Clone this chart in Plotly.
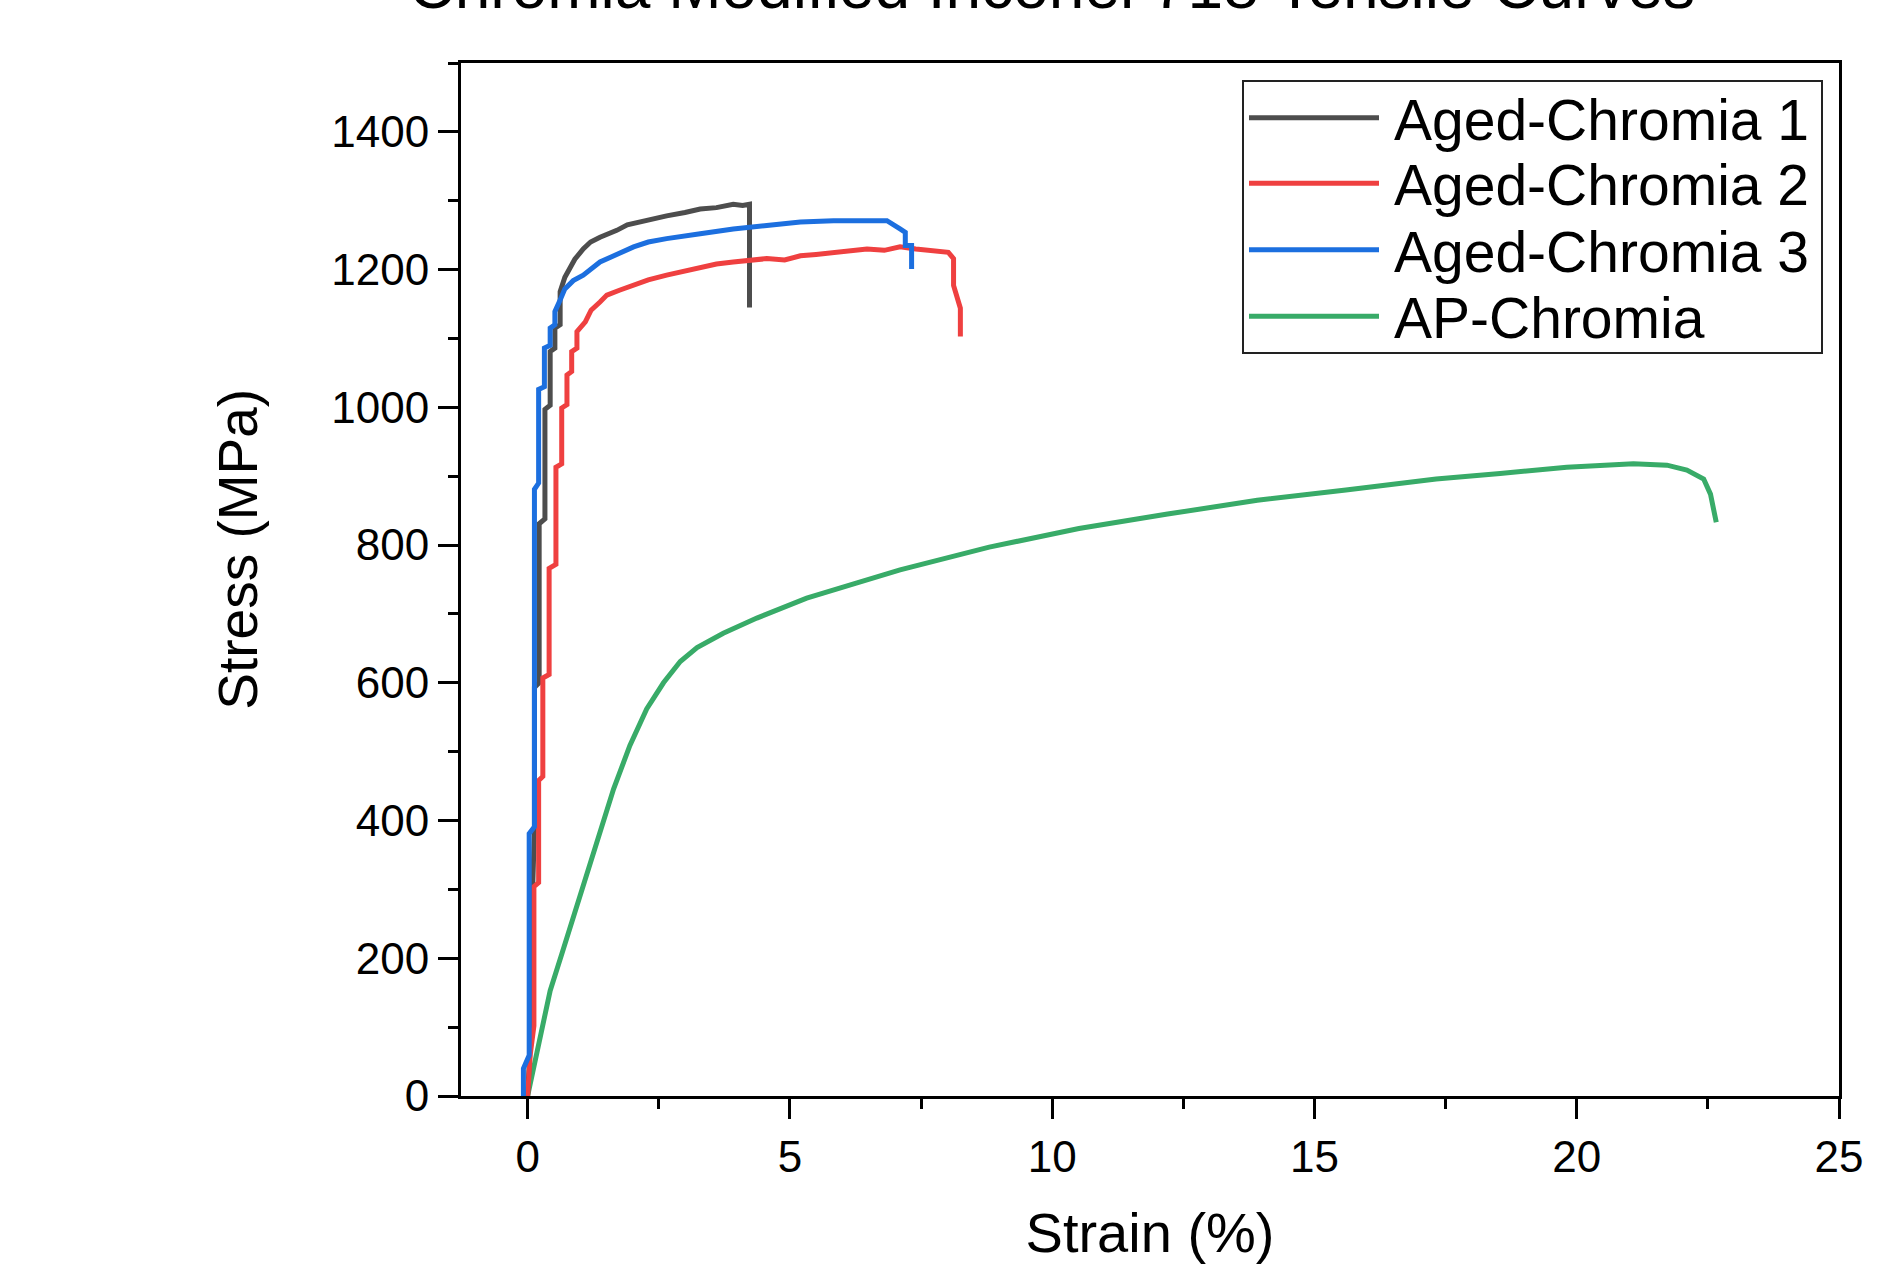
import plotly.graph_objects as go

# datos
names = ['Aged-Chromia 1', 'Aged-Chromia 2', 'Aged-Chromia 3', 'AP-Chromia']
colors = ['#4d4d4d', '#ef4040', '#1c6fdf', '#38ab68']

strain_aged1 = [0, 0.04, 0.08, 0.10, 0.13, 0.13, 0.22, 0.22, 0.33, 0.33, 0.43, 0.43, 0.52, 0.52,
                0.62, 0.62, 0.71, 0.81, 0.90, 1.06, 1.20, 1.38, 1.55, 1.70, 1.90, 2.21, 2.45, 2.65,
                3.00, 3.29, 3.60, 3.92, 4.10, 4.23, 4.23]
stress_aged1 = [0, 60, 300, 310, 390, 593, 600, 831, 838, 997, 1003, 1081, 1086, 1115,
                1120, 1168, 1189, 1204, 1215, 1230, 1240, 1247, 1252, 1257, 1265, 1271, 1275, 1278,
                1283, 1288, 1290, 1295, 1293, 1295, 1145]

strain_aged2 = [0, 0.05, 0.12, 0.12, 0.21, 0.21, 0.29, 0.29, 0.41, 0.41, 0.54, 0.54, 0.65, 0.65,
                0.75, 0.75, 0.84, 0.84, 0.94, 0.94, 1.10, 1.21, 1.38, 1.51, 1.75, 2.02, 2.30, 2.65,
                3.00, 3.29, 3.60, 3.92, 4.20, 4.56, 4.90, 5.20, 5.50, 5.83, 6.15, 6.47, 6.80, 7.10,
                7.40, 7.74, 8.02, 8.12, 8.12, 8.25, 8.25]
stress_aged2 = [0, 60, 102, 304, 310, 458, 464, 607, 612, 766, 772, 913, 918, 999,
                1004, 1047, 1052, 1081, 1086, 1110, 1124, 1141, 1153, 1163, 1170, 1177, 1185, 1192,
                1198, 1204, 1208, 1211, 1213, 1216, 1214, 1220, 1222, 1225, 1227, 1230, 1228, 1233,
                1230, 1228, 1225, 1216, 1177, 1144, 1103]

strain_aged3 = [-0.08, -0.08, 0.03, 0.03, 0.13, 0.13, 0.21, 0.21, 0.32, 0.32, 0.43, 0.43, 0.52, 0.52,
                0.62, 0.71, 0.87, 1.06, 1.38, 1.70, 2.02, 2.30, 2.65, 3.29, 3.92, 4.56, 5.20, 5.83,
                6.47, 6.85, 7.10, 7.20, 7.20, 7.32, 7.32]
stress_aged3 = [0, 40, 59, 381, 391, 881, 890, 1026, 1030, 1086, 1090, 1115, 1120, 1139,
                1156, 1172, 1184, 1192, 1211, 1223, 1233, 1240, 1245, 1252, 1259, 1264, 1269, 1271,
                1271, 1271, 1259, 1254, 1235, 1235, 1201]

strain_ap = [0, 0.27, 0.43, 0.65, 1.00, 1.32, 1.64, 1.95, 2.27, 2.59, 2.91, 3.23, 3.73, 4.37,
             5.32, 6.28, 7.10, 8.80, 10.51, 12.20, 13.91, 15.60, 17.32, 18.54, 19.81, 21.08,
             21.72, 22.10, 22.42, 22.55, 22.66]
stress_ap = [0, 95, 153, 206, 292, 369, 446, 509, 562, 600, 631, 651, 672, 694,
             723, 745, 764, 797, 824, 845, 865, 880, 896, 904, 913, 918,
             916, 909, 896, 874, 833]

series = [(strain_aged1, stress_aged1), (strain_aged2, stress_aged2),
          (strain_aged3, stress_aged3), (strain_ap, stress_ap)]

W, H = 1902, 1266
L, R, T, B = 461, 63, 63, 163
font = 'Arial, Liberation Sans, sans-serif'

fig = go.Figure()
# dibujar las curvas (la verde primero para que quede debajo)
for i in [3, 0, 1, 2]:
    x, y = series[i]
    fig.add_trace(go.Scatter(x=x, y=y, mode='lines', name=names[i],
                             line=dict(color=colors[i], width=5), showlegend=False))

# pasar pixeles a coordenadas paper
def px(xp):
    return (xp - L) / (W - L - R)

def py(yp):
    return (H - B - yp) / (H - T - B)

# leyenda manual (lineas largas como en el original)
shapes = [dict(type='rect', xref='paper', yref='paper', x0=px(1243), x1=px(1822),
               y0=py(355), y1=py(81), line=dict(color='#222', width=2), fillcolor='white')]
annotations = []
rows = [118, 184, 251, 318]
for name, col, r in zip(names, colors, rows):
    shapes.append(dict(type='line', xref='paper', yref='paper', x0=px(1249), x1=px(1379),
                       y0=py(r), y1=py(r), line=dict(color=col, width=5)))
    annotations.append(dict(xref='paper', yref='paper', x=px(1392), y=py(r + 2), text=name,
                            showarrow=False, xanchor='left', yanchor='middle',
                            font=dict(family=font, size=57, color='black')))

# titulo del eje y (un poco por encima del centro, como en el original)
annotations.append(dict(xref='paper', yref='paper', x=px(238), y=py(552), text='Stress (MPa)',
                        showarrow=False, textangle=-90, xanchor='center', yanchor='middle',
                        font=dict(family=font, size=55, color='black')))

axis_common = dict(showgrid=False, zeroline=False, showline=True, linecolor='black', linewidth=3,
                   mirror=True, ticks='outside', ticklen=20, tickwidth=3, tickcolor='black',
                   tickfont=dict(family=font, size=44, color='black'))

fig.update_layout(
    width=W, height=H,
    plot_bgcolor='white', paper_bgcolor='white',
    margin=dict(l=L, r=R, t=T, b=B),
    title=dict(text='Chromia Modified Inconel 718 Tensile Curves', x=0.553, xanchor='center',
               xref='container', yref='container', y=1 - 8 / H, yanchor='bottom',
               font=dict(family=font, size=64, color='black')),
    xaxis=dict(range=[-1.27, 25], dtick=5, tick0=0,
               minor=dict(dtick=2.5, ticklen=10, tickwidth=3, tickcolor='black', ticks='outside'),
               title=dict(text='Strain (%)', standoff=34, font=dict(family=font, size=56, color='black')),
               **axis_common),
    yaxis=dict(range=[0, 1500], dtick=200, tick0=0,
               minor=dict(dtick=100, ticklen=10, tickwidth=3, tickcolor='black', ticks='outside'),
               **axis_common),
    shapes=shapes, annotations=annotations,
    showlegend=False,
)

# quitar el margen del body para que la figura quede en (0,0)
fig.write_html('out.html', config={'displayModeBar': False},
               post_script="document.body.style.margin='0';")
